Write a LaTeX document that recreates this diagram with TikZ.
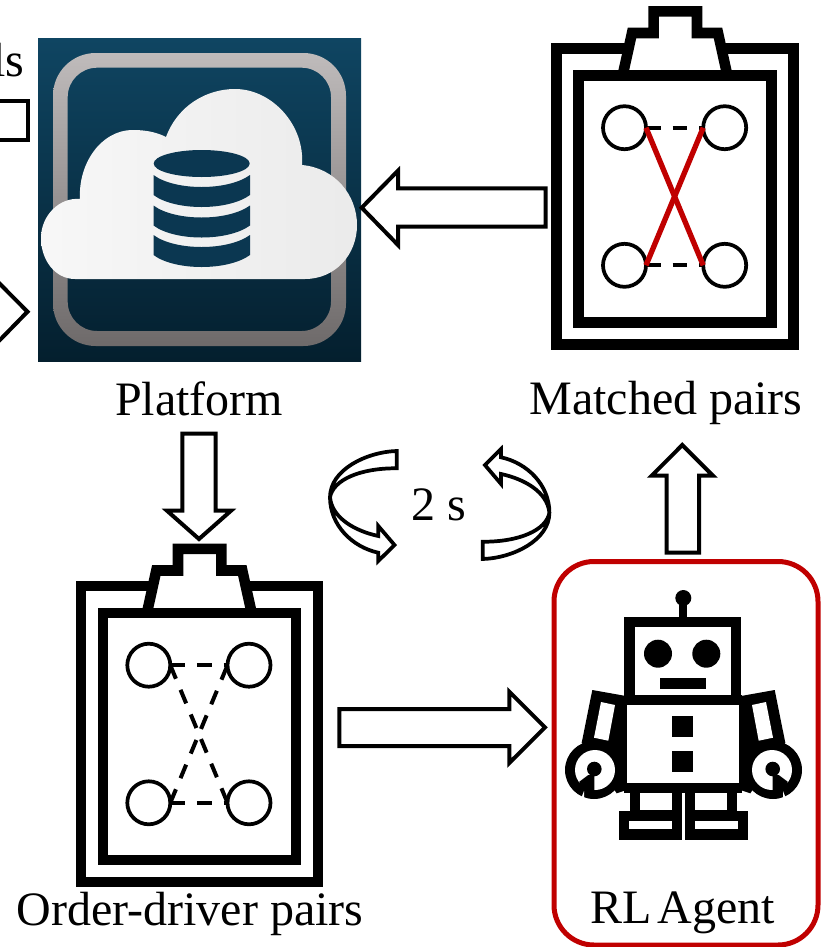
\documentclass[tikz,border=0pt]{standalone}
\usepackage{fontspec}
\setmainfont{Liberation Serif}
\definecolor{agentred}{HTML}{C00000}
\definecolor{dbblue}{HTML}{0B3751}
\definecolor{platformtop}{HTML}{0F4562}
\definecolor{platformlow}{HTML}{041F2E}
\definecolor{frametop}{HTML}{BFBBBB}
\definecolor{framelow}{HTML}{6E6A6A}
\tikzset{
  labeltext/.style={font=\fontsize{36}{40}\selectfont,inner sep=0pt,anchor=base},
  blockarrow/.style={line width=3pt},
  boardline/.style={line width=7.9pt},
  pairdot/.style={circle,draw,line width=2.8pt,minimum size=32.25pt,inner sep=0pt,outer sep=0pt},
  pairdash/.style={line width=3pt,dash pattern=on 11pt off 9pt},
  pairmatch/.style={line width=4pt,agentred}
}
% clipboard with its four dots, drawn at the top right place
\newcommand{\boardshape}{
  \draw[boardline] (556.5,48.5) rectangle (793.5,344.5);
  \draw[boardline,fill=white] (622.5,76) -- (632,33) -- (653.7,33) -- (653.7,11.3) -- (697,11.3) -- (697,33) -- (718,33) -- (727.5,76);
  \draw[boardline,fill=white] (578.5,75.5) rectangle (771.5,322.5);
  \node[pairdot] (tl) at (624.5,127.7) {};
  \node[pairdot] (tr) at (724.7,127.7) {};
  \node[pairdot] (bl) at (624.5,265.3) {};
  \node[pairdot] (br) at (724.7,265.3) {};
  \draw[pairdash] (tl.east) -- (tr.west);
  \draw[pairdash] (bl.east) -- (br.west);
}
\begin{document}
\begin{tikzpicture}[x=0.75pt,y=-0.75pt]
\useasboundingbox (0,0) rectangle (822,947);
\clip (0,0) rectangle (822,947);
% platform picture
\shade[top color=platformtop,bottom color=platformlow] (38,38) rectangle (361,361);
\shade[top color=frametop,bottom color=framelow,even odd rule] [rounded corners=32pt] (53,53) rectangle (346,346) [rounded corners=22pt] (67.7,67.7) rectangle (331,331);
\shade[left color=white!97!black,right color=white!92!black]
	(80,199) .. controls (78,165) and (100,130) .. (133,130) .. controls (148,130) and (158,133) .. (166,137)
	.. controls (178,105) and (207,89) .. (235,89) .. controls (272,89) and (305,125) .. (302,165)
	.. controls (335,168) and (357,195) .. (357,225) .. controls (357,255) and (335,279) .. (305,279)
	-- (75,279) .. controls (55,279) and (41,260) .. (41,238) .. controls (41,215) and (60,197) .. (80,199) -- cycle;
\fill[dbblue] (201.7,163.5) ellipse [x radius=48,y radius=13.5];
\foreach \s in {175,205.5,235}
{\fill[dbblue] (153.5,\s) .. controls (175,\s+16) and (228,\s+16) .. (250,\s) -- (250,\s+20) .. controls (228,\s+36) and (175,\s+36) .. (153.5,\s+20) -- cycle;
}
% pieces at the left border
\node[labeltext,anchor=base east] (fieldtail) at (24.5,76) {ls};
\draw[blockarrow] (-5,101) -- (28,101) -- (28,139.5) -- (-5,139.5);
\draw[blockarrow] (-5,279) -- (27.5,311.7) -- (-5,345);
% boards
\begin{scope}[name prefix=match-]
\boardshape
\draw[pairmatch] (tl.east) -- (br.west);
\draw[pairmatch] (bl.east) -- (tr.west);
\end{scope}
\begin{scope}[shift={(-475.7,537.5)},name prefix=pair-]
\boardshape
\draw[pairdash] (tl.east) -- (br.west);
\draw[pairdash] (bl.east) -- (tr.west);
\end{scope}
% block arrows
\draw[blockarrow] (545.7,188.3) -- (398,188.3) -- (398,170.7) -- (361.7,207.7) -- (398,245) -- (398,226.7) -- (545.7,226.7) -- cycle;
\draw[blockarrow] (182.3,433.5) -- (182.3,510.7) -- (167,510.7) -- (199,539) -- (231,510.7) -- (215.7,510.7) -- (215.7,433.5) -- cycle;
\draw[blockarrow] (339.3,709) -- (509.3,709) -- (509.3,691.7) -- (545,727.4) -- (509.3,763) -- (509.3,746) -- (339.3,746) -- cycle;
\draw[blockarrow] (666.7,552.7) -- (666.7,475.7) -- (651.7,475.7) -- (682.3,445) -- (713,475.7) -- (699,475.7) -- (699,552.7) -- cycle;
% turning arrows
\foreach \a in {0,180}
{\begin{scope}[rotate around={\a:(439.7,505)}]
\draw[line width=2.8pt] (396.7,451) .. controls (366,452) and (330,470) .. (330,497.3) .. controls (330,525) and (352,547) .. (378.3,552.7)
	-- (378.3,561) -- (394.5,545) -- (378.3,526) -- (378.3,536) .. controls (355,531) and (332,518) .. (330,497.3)
	.. controls (333,480) and (360,468) .. (396.7,468.3) -- cycle;
\end{scope}
}
% agent box and robot
\draw[line width=3.75pt,agentred,rounded corners=30pt] (554,561.5) rectangle (818,945);
\fill (679.3,598) rectangle (687,618);
\fill (683.3,598) circle [radius=8];
\draw[boardline] (629.7,622) rectangle (736,700);
\fill (658,653.7) circle [radius=14];
\fill (706.3,653.7) circle [radius=14];
\fill (660.3,678) rectangle (705.7,688.7);
\foreach \m in {0,1}
{\begin{scope}[shift={(1367*\m,0)},xscale=1-2*\m]
\fill (592.3,690) -- (626,696) -- (626.7,790) -- (616.7,793.3) -- (581.7,742.7) -- cycle;
\fill[white] (601,702) -- (615,705) -- (608.3,740.7) -- (594,737.7) -- cycle;
\fill (594,770) circle [radius=29];
\fill[white] (595,770) circle [radius=20];
\fill (594.3,769) circle [radius=7.3];
\fill (588.3,775) -- (579.3,781.7) -- (582,795) -- (594.3,795) -- (594.3,775) -- cycle;
\fill[white] (584,791) -- (580.5,800) -- (584,802.5) -- cycle;
\fill (629.7,790) rectangle (682.3,812);
\fill[white] (640,793) rectangle (672,810.3);
\fill (619,811) rectangle (682.3,840);
\fill[white] (629.3,821) rectangle (672,829.3);
\end{scope}
}
\fill (624.3,694.7) rectangle (741.7,793);
\fill[white] (626.7,705) rectangle (739.3,782.7);
\fill (672,715.7) rectangle (693,736.7);
\fill (672,750.7) rectangle (693,771.7);
% labels
\node[labeltext] (platformtext) at (199,415) {Platform};
\node[labeltext] (matchedtext) at (666,414.5) {Matched pairs};
\node[labeltext] (timetext) at (439,520.7) {2 s};
\node[labeltext] (pairtext) at (190,925) {Order-driver pairs};
\node[labeltext] (agenttext) at (682.5,923) {RL\hspace{-4.5pt} Agent};
\end{tikzpicture}
\end{document}
